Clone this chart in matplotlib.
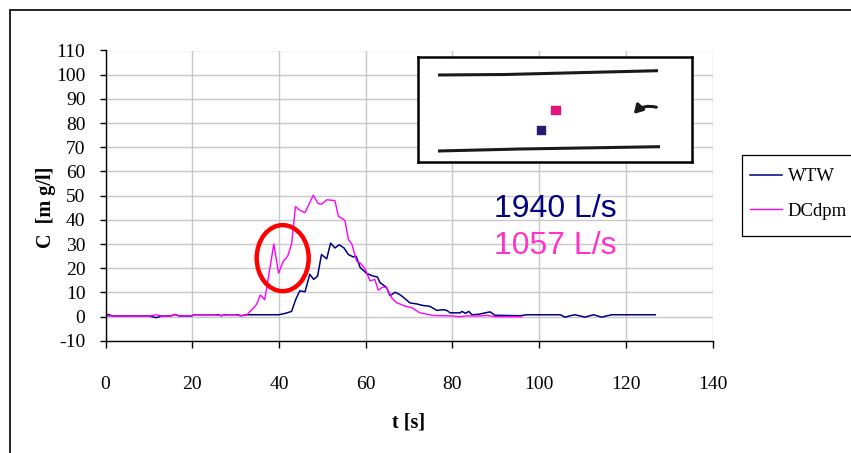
import matplotlib.pyplot as plt
from matplotlib.patches import Ellipse, Rectangle

plt.rcParams['axes.unicode_minus'] = False

# WTW curve (t [s], C [mg/l])
wtw_t = [0, 0.7, 1.5, 10, 11.7, 13, 15, 16, 17, 19.8, 20.5, 26, 26.7, 27.5, 30.5, 31.2, 32.5,
         40, 41.7, 42.9, 43.9, 44.8, 46.0, 47.1, 48.0, 48.9, 49.8, 51.0, 51.9, 52.9, 53.9,
         55.0, 56.0, 57.1, 57.8, 58.7, 60.2, 61.7, 62.7, 63.3, 64.8, 65.6, 66.8, 67.8, 68.7,
         70.2, 71.7, 73.3, 74.8, 76.4, 78.0, 78.7, 79.5, 81.8, 82.2, 83.0, 83.8, 84.5, 86,
         88.7, 89.8, 95.6, 97.2, 104.9, 106.0, 107, 108.2, 109.5, 110.6, 111.5, 112.6, 113.5,
         114.5, 115.5, 116.8, 126.8]
wtw_c = [0.3, 0.9, 0.3, 0.3, -0.4, 0.3, 0.3, 0.9, 0.3, 0.3, 0.8, 0.8, 0.4, 0.8, 0.8, 0.4, 0.8,
         0.8, 1.5, 2.2, 7.3, 10.7, 10.3, 17.5, 15.4, 16.8, 25.7, 23.9, 30.4, 28.4, 29.7,
         28.4, 25.7, 24.7, 25.0, 20.4, 17.9, 16.8, 16.4, 14.1, 12.1, 8.7, 10.1, 9.2, 8.0,
         5.7, 5.3, 4.6, 4.3, 2.6, 2.9, 2.6, 1.6, 1.6, 2.2, 1.4, 2.2, 0.8, 1.0,
         2.0, 0.6, 0.4, 0.8, 0.8, -0.2, 0.3, 0.8, 0.3, -0.2, 0.3, 0.8, 0.3,
         -0.2, 0.3, 0.8, 0.8]

# DCdpm curve
dc_t = [0, 5, 10, 11.7, 13, 15, 16, 17, 19.8, 20.5, 25, 26.7, 28, 30, 31, 32.5, 33.5, 34.8,
        35.7, 36.7, 37.9, 38.8, 39.9, 41.0, 42.0, 42.9, 43.8, 44.8, 46.0, 47.9, 49.0, 49.8,
        51.0, 52.9, 53.7, 55.2, 56.0, 56.8, 57.9, 58.7, 59.8, 61.0, 62.1, 62.9, 64.0, 64.8,
        66.0, 67.1, 69.4, 70.6, 72.5, 75.6, 80.2, 81.5, 83, 86, 88, 90, 93, 96]
dc_c = [0.3, 0.3, 0.2, 0.8, 0.2, 0.3, 1.0, 0.3, 0.4, 0.8, 0.8, 0.5, 0.8, 0.8, 0.4, 0.6, 2.5, 5.0,
        9.0, 7.0, 20.0, 30.0, 18.0, 23.0, 25.0, 30.0, 45.5, 44.0, 43.0, 50.2, 46.8, 46.5,
        48.3, 48.0, 41.5, 39.8, 32.0, 30.0, 23.0, 22.2, 20.0, 14.8, 15.4, 11.0, 12.3, 12.0,
        7.8, 5.8, 4.2, 3.8, 1.6, 0.5, 0.3, 0.0, 0.3, 0.3, 0.5, 0.0, 0.0, 0.0]

# inset sketch (inset box units: 274 x 105, y up)
wall_top_x = [20, 87, 240]
wall_top_y = [87, 87.5, 91.3]
wall_bot_x = [20, 102, 242]
wall_bot_y = [11, 13, 15.3]
probe_x = [137.5, 123]
probe_y = [52, 32]
probe_col = ['#E0147A', '#2A1A6E']

fig = plt.figure(figsize=(8.51, 4.53), dpi=100)
W, H = 851, 453

ax = fig.add_axes([105.6 / W, 1 - 340.9 / H, (712.5 - 105.6) / W, (340.9 - 50.5) / H])
ax.plot(wtw_t, wtw_c, color='#000080', lw=1.1, label='WTW')
ax.plot(dc_t, dc_c, color='#FF00FF', lw=1.0, label='DCdpm')
ax.set_xlim(0, 140)
ax.set_ylim(-10, 110)
ax.set_xticks(range(0, 141, 20))
ax.set_yticks(range(-10, 111, 10))
ax.grid(True, color='#C8C8C8', lw=1.0)
ax.set_axisbelow(True)
for s in ['top', 'right']:
    ax.spines[s].set_visible(False)
for s in ['left', 'bottom']:
    ax.spines[s].set_linewidth(1.0)
ax.tick_params(axis='y', direction='out', length=4.5, width=1, pad=10,
               labelsize=14, labelfontfamily='Liberation Serif')
ax.tick_params(axis='x', direction='out', length=5, width=1, pad=20,
               labelsize=14, labelfontfamily='Liberation Serif')

ax.add_patch(Ellipse((40.85, 24.2), 12.0, 27.3, fill=False, ec='#FF0000', lw=3.2, zorder=5))

ax.text(117.8, 44.4, '1940 L/s', color='#000080', fontsize=23, ha='right', va='center',
        family='Liberation Sans')
ax.text(117.8, 29.3, '1057 L/s', color='#FF33CC', fontsize=23, ha='right', va='center',
        family='Liberation Sans')

fig.text(46 / W, 1 - 207 / H, 'C  [m g/l]', rotation=90, ha='center', va='center',
         fontsize=14.5, fontweight='bold', family='Liberation Serif')
fig.text(409 / W, 1 - 423 / H, 't [s]', ha='center', va='center',
         fontsize=14.5, fontweight='bold', family='Liberation Serif')

# legend without its own frame; frame drawn separately (it runs off the right edge)
leg = fig.legend(loc='upper left', bbox_to_anchor=(750 / W, 1 - 168 / H), borderaxespad=0,
                 prop={'family': 'Liberation Serif', 'size': 13.5}, handlelength=1.7,
                 handletextpad=0.32, labelspacing=0.92, borderpad=0, frameon=False)
fig.add_artist(Rectangle((742 / W, 1 - 236 / H), 0.3, 81 / H, transform=fig.transFigure,
                         fill=False, ec='black', lw=0.9))

# inset schematic
ins = fig.add_axes([418 / W, 1 - 162 / H, 274 / W, 105 / H])
ins.set_xlim(0, 274)
ins.set_ylim(0, 105)
ins.set_xticks([])
ins.set_yticks([])
for s in ins.spines.values():
    s.set_linewidth(1.8)
ins.plot(wall_top_x, wall_top_y, color='#1a1a1a', lw=2.2, solid_capstyle='butt')
ins.plot(wall_bot_x, wall_bot_y, color='#1a1a1a', lw=2.2, solid_capstyle='butt')
ins.scatter(probe_x, probe_y, marker='s', s=40, c=probe_col, zorder=3)
ins.annotate('', xy=(214, 46), xytext=(241, 54),
             arrowprops=dict(arrowstyle='-|>,head_length=0.5,head_width=0.3', color='#1a1a1a',
                             lw=2.2, connectionstyle='arc3,rad=0.35'))

# outer frame
fig.add_artist(Rectangle((10 / W, -0.1), 1.2, 1.1 - 10 / H, transform=fig.transFigure,
                         fill=False, ec='black', lw=1.2))

fig.savefig('out.png', dpi=100)
